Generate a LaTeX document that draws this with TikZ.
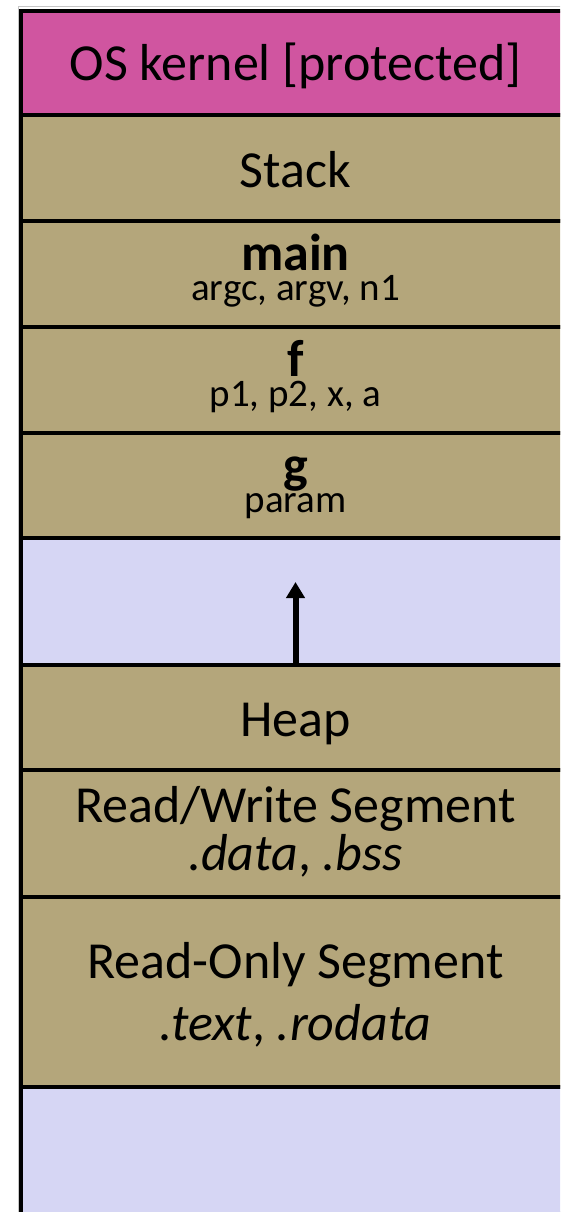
\documentclass[tikz,border=0pt]{standalone}
\usepackage{fontspec}
\setmainfont{Carlito}
\usepackage{tikz}
\usetikzlibrary{arrows.meta, positioning, calc}

\definecolor{kernelpink}{RGB}{208,85,160}
\definecolor{segtan}{RGB}{180,166,123}
\definecolor{freeblue}{RGB}{214,214,244}

\tikzset{
  seg/.style={draw=black, line width=4.5pt, minimum width=549pt, inner sep=0pt, anchor=center},
  lbl/.style={font=\fontsize{52}{60}\selectfont, anchor=base, inner sep=0pt},
  sub/.style={font=\fontsize{39}{45}\selectfont, anchor=base, inner sep=0pt},
  growarrow/.style={line width=6pt, -{Triangle[length=16pt,width=18pt]}}
}

\begin{document}
\begin{tikzpicture}[x=1pt, y=-1pt]
\useasboundingbox (0,0) rectangle (560,1212);
\clip (0,0) rectangle (560,1212);

% outer frame
\draw[gray!45, line width=1pt] (18,7) rectangle (620,1211.5);

% memory segments, top to bottom
\node[seg, fill=kernelpink, minimum height=104pt] (kernel) at (295.5,63) {};
\node[seg, fill=segtan, minimum height=106pt] (stack) at (295.5,168) {};
\node[seg, fill=segtan, minimum height=106pt] (main) at (295.5,274) {};
\node[seg, fill=segtan, minimum height=106pt] (f) at (295.5,380) {};
\node[seg, fill=segtan, minimum height=105pt] (g) at (295.5,485.5) {};
\node[seg, fill=freeblue, minimum height=127pt] (gap) at (295.5,601.5) {};
\node[seg, fill=segtan, minimum height=105pt] (heap) at (295.5,717.5) {};
\node[seg, fill=segtan, minimum height=127pt] (rw) at (295.5,833.5) {};
\node[seg, fill=segtan, minimum height=190pt] (ro) at (295.5,992) {};
\node[seg, fill=freeblue, minimum height=143pt] (low) at (295.5,1158.5) {};

% labels
\node[lbl] (kernelT) at (295.5,81) {OS kernel [protected]};
\node[lbl] (stackT) at (295.5,187) {Stack};
\node[lbl] (mainT) at (295.5,270) {\textbf{main}};
\node[sub] (mainV) at (295.5,300) {argc, argv, n1};
\node[lbl] (fT) at (295.5,376) {\textbf{f}};
\node[sub] (fV) at (295.5,406) {p1, p2, x, a};
\node[lbl] (gT) at (295.5,482) {\textbf{g}};
\node[sub] (gV) at (295.5,512) {param};
\node[lbl] (heapT) at (295.5,736) {Heap};
\node[lbl] (rwT) at (295.5,822) {Read/Write Segment};
\node[lbl] (rwV) at (295.5,870) {\textit{.data}, \textit{.bss}};
\node[lbl] (roT) at (295.5,978) {Read-Only Segment};
\node[lbl] (roV) at (295.5,1040) {\textit{.text}, \textit{.rodata}};

% heap grows upward
\coordinate (growTip) at (295.5,582);
\draw[growarrow] (heap.north) -- (growTip);
\end{tikzpicture}
\end{document}
